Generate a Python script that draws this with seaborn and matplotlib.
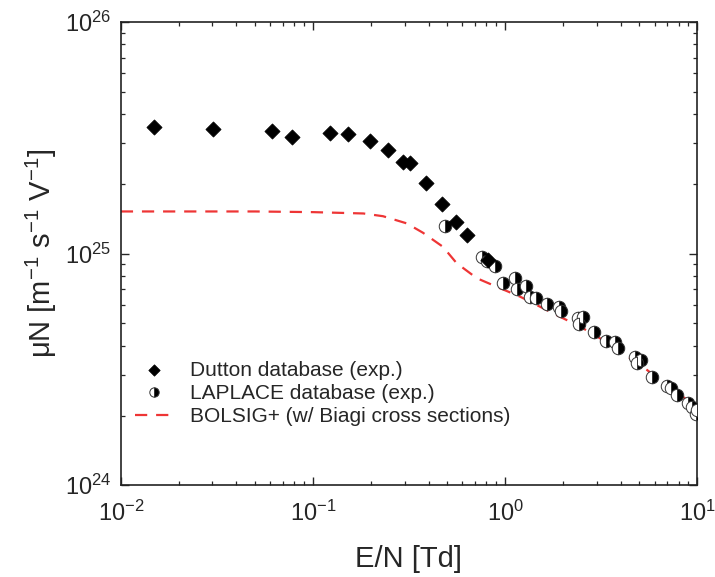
import numpy as np
import pandas as pd
import matplotlib
matplotlib.use("Agg")
import matplotlib.pyplot as plt
import seaborn as sns

# ---------------- data ----------------
dutton_en = [0.0149, 0.0303, 0.061, 0.0775, 0.1226, 0.1527, 0.198, 0.245,
             0.295, 0.320, 0.386, 0.468, 0.556, 0.631, 0.815]
dutton_mu = [3.53e25, 3.45e25, 3.38e25, 3.18e25, 3.33e25, 3.27e25, 3.06e25, 2.80e25,
             2.49e25, 2.47e25, 2.02e25, 1.64e25, 1.365e25, 1.20e25, 9.4e24]

laplace_en = [0.487, 0.756, 0.809, 0.887, 0.980, 1.127, 1.159, 1.282, 1.35, 1.445,
              1.66, 1.90, 1.957, 2.41, 2.56, 2.44, 2.92, 3.35, 3.74, 3.89,
              4.75, 5.09, 4.85, 5.85, 6.95, 7.30, 7.84, 9.01, 9.38, 9.84, 10.0]
laplace_mu = [1.317e25, 9.70e24, 9.32e24, 8.84e24, 7.45e24, 7.88e24, 7.04e24, 7.27e24, 6.52e24, 6.45e24,
              6.08e24, 5.88e24, 5.65e24, 5.29e24, 5.34e24, 4.95e24, 4.58e24, 4.20e24, 4.17e24, 3.93e24,
              3.59e24, 3.47e24, 3.36e24, 2.94e24, 2.67e24, 2.64e24, 2.45e24, 2.26e24, 2.18e24, 2.03e24, 2.11e24]

bolsig_en = [0.01, 0.05, 0.1, 0.183, 0.2316, 0.308, 0.374, 0.475, 0.56, 0.713, 0.942,
             1.197, 1.52, 1.93, 2.46, 3.12, 4.13, 5.47, 6.95, 8.84, 10.0]
bolsig_mu = [1.52e25, 1.52e25, 1.51e25, 1.49e25, 1.45e25, 1.35e25, 1.23e25, 1.07e25, 9.09e24, 7.83e24, 7.09e24,
             6.52e24, 5.90e24, 5.34e24, 4.84e24, 4.31e24, 3.71e24, 3.15e24, 2.71e24, 2.34e24, 2.11e24]

labels = ["Dutton database (exp.)", "LAPLACE database (exp.)", "BOLSIG+ (w/ Biagi cross sections)"]

dutton = pd.DataFrame({"en": dutton_en, "mu": dutton_mu})
laplace = pd.DataFrame({"en": laplace_en, "mu": laplace_mu})
bolsig = pd.DataFrame({"en": bolsig_en, "mu": bolsig_mu})

# ---------------- style ----------------
sns.set_theme(style="ticks")
plt.rcParams["font.family"] = ["Liberation Sans", "DejaVu Sans"]
plt.rcParams["mathtext.default"] = "regular"
plt.rcParams["axes.unicode_minus"] = False

fig = plt.figure(figsize=(7.15, 5.77), dpi=100)
ax = fig.add_axes([0.169, 0.159, 0.806, 0.803])

sns.lineplot(data=bolsig, x="en", y="mu", ax=ax, color="#ee3535", lw=1.6,
             dashes=False, linestyle=(0, (5.5, 4)), estimator=None, sort=False,
             label=labels[2], zorder=2)
sns.scatterplot(data=dutton, x="en", y="mu", ax=ax, marker="D", s=60, color="black",
                edgecolor="black", linewidth=0.5, label=labels[0], zorder=4)
sns.lineplot(data=laplace, x="en", y="mu", ax=ax, estimator=None, sort=False,
             linestyle="none", marker="o", markersize=9, fillstyle="right",
             markerfacecolor="black", markerfacecoloralt="white",
             markeredgecolor="#333333", markeredgewidth=0.7,
             label=labels[1], zorder=3)

ax.set_xscale("log")
ax.set_yscale("log")
ax.set_xlim(1e-2, 1e1)
ax.set_ylim(1e24, 1e26)

ax.set_xlabel("E/N [Td]", fontsize=21, labelpad=14)
ax.set_ylabel("μN [m$^{-1}$ s$^{-1}$ V$^{-1}$]", fontsize=21, labelpad=4)

ax.tick_params(which="both", direction="in", top=True, right=True, labelsize=17)
ax.tick_params(axis="x", which="major", pad=11)
ax.tick_params(axis="y", which="major", pad=7)
ax.tick_params(which="major", length=6, width=1.0)
ax.tick_params(which="minor", length=3, width=0.9)
for sp in ax.spines.values():
    sp.set_linewidth(1.2)
    sp.set_color("#222222")

# legend in Dutton / LAPLACE / BOLSIG order
h, l = ax.get_legend_handles_labels()
order = [l.index(t) for t in labels]
ax.legend([h[i] for i in order], [l[i] for i in order], loc="upper left",
          bbox_to_anchor=(0.0, 0.30), frameon=False, fontsize=15,
          markerscale=0.75, handlelength=1.8, handletextpad=0.8,
          labelspacing=0.2, borderaxespad=0.3)

fig.savefig("out.png", dpi=100)
